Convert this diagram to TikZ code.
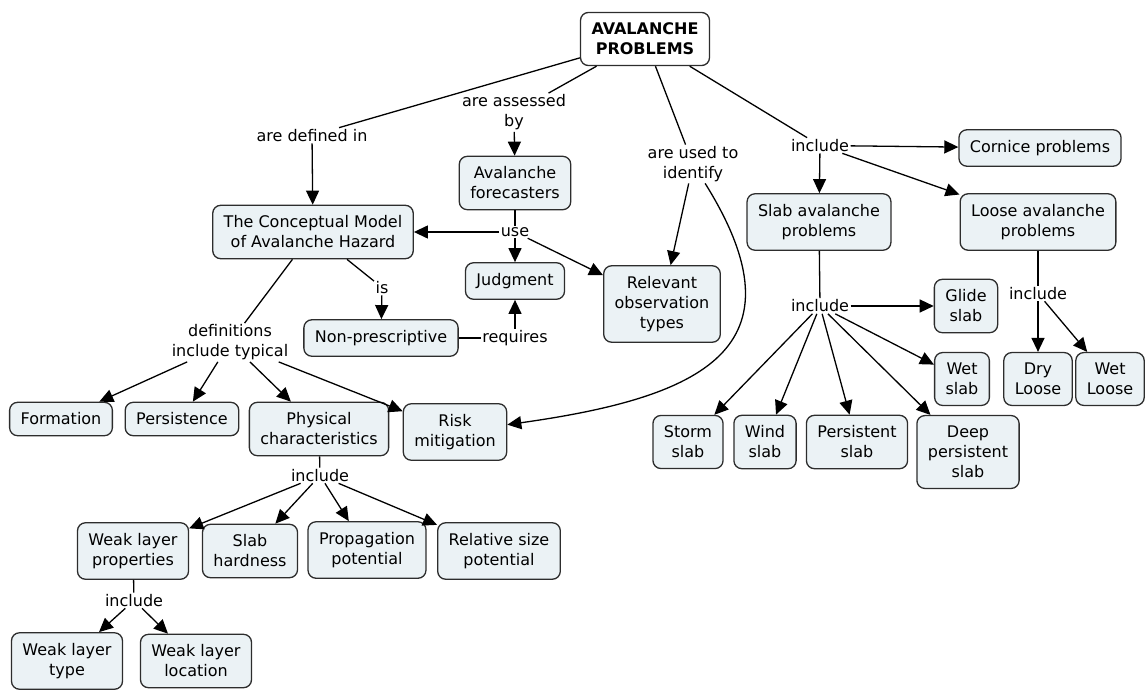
\documentclass[tikz,border=0pt]{standalone}
\usepackage{fontspec}
\setmainfont{DejaVu Sans}
\usepackage{tikz}
\usetikzlibrary{arrows.meta}
\definecolor{conceptfill}{RGB}{235,242,245}
\definecolor{conceptline}{RGB}{45,45,45}
\tikzset{every picture/.style={line width=1.3pt}}

\begin{document}
\begin{tikzpicture}[x=1pt,y=-1pt,>={Triangle[length=14pt,width=13pt]},
        concept/.style={draw=conceptline,fill=conceptfill,rounded corners=8pt,align=center,
            inner xsep=11pt,inner ysep=10.5pt,font=\fontsize{16}{20}\selectfont},
        link/.style={align=center,inner sep=1pt,font=\fontsize{16}{20}\selectfont}]
        \useasboundingbox (0,0) rectangle (1145,690);
        \node[concept,fill=white,font=\fontsize{16}{20}\selectfont\bfseries] (root) at (645,39) {AVALANCHE\\PROBLEMS};
        \node[link] (defined) at (312,135.5) {are defined in};
        \node[link] (assessed) at (514,112.5) {are assessed\\by};
        \node[link] (identify) at (693,164) {are used to\\identify};
        \node[link] (incl1) at (820,145.5) {include};
        \node[concept] (cornice) at (1040,148) {Cornice problems};
        \node[concept] (forecasters) at (515,183) {Avalanche\\forecasters};
        \node[concept] (model) at (313,232) {The Conceptual Model\\of Avalanche Hazard};
        \node[concept] (slab) at (819,222) {Slab avalanche\\problems};
        \node[concept] (loose) at (1038,222) {Loose avalanche\\problems};
        \node[link] (use) at (515,232) {use};
        \node[concept] (judgment) at (515,281) {Judgment};
        \node[concept] (relevant) at (662,304) {Relevant\\observation\\types};
        \node[link] (is) at (382,287.5) {is};
        \node[concept] (nonpres) at (381,338) {Non-prescriptive};
        \node[link] (requires) at (515,338) {requires};
        \node[link] (defs) at (230,342.5) {definitions\\include typical};
        \node[link] (incl2) at (820,306) {include};
        \node[concept] (glide) at (966,306) {Glide\\slab};
        \node[link] (incl3) at (1038,293.5) {include};
        \node[concept] (wetslab) at (962,379) {Wet\\slab};
        \node[concept] (dry) at (1038,379) {Dry\\Loose};
        \node[concept] (wetloose) at (1110,379) {Wet\\Loose};
        \node[concept] (formation) at (61,419) {Formation};
        \node[concept] (persistence) at (182,419) {Persistence};
        \node[concept] (physical) at (319,429) {Physical\\characteristics};
        \node[concept] (risk) at (455,432) {Risk\\mitigation};
        \node[concept] (storm) at (688,442) {Storm\\slab};
        \node[concept] (wind) at (765,442) {Wind\\slab};
        \node[concept] (persistent) at (857,442) {Persistent\\slab};
        \node[concept] (deep) at (968,452) {Deep\\persistent\\slab};
        \node[link] (incl4) at (320,475.5) {include};
        \node[concept] (wlprop) at (133,551) {Weak layer\\properties};
        \node[concept] (hardness) at (250,551) {Slab\\hardness};
        \node[concept] (propagation) at (367,550) {Propagation\\potential};
        \node[concept] (relsize) at (499,551) {Relative size\\potential};
        \node[link] (incl5) at (134,600.5) {include};
        \node[concept] (wltype) at (67,661) {Weak layer\\type};
        \node[concept] (wlloc) at (196,661) {Weak layer\\location};
        \draw
            (root) edge (defined)
            (defined) edge[->] (model)
            (root) edge (assessed)
            (assessed) edge[->] (forecasters)
            (root) edge (identify)
            (identify) edge[->] (relevant)
            (identify) edge[->,out=-58,in=8,looseness=1.6] (risk)
            (root) edge (incl1)
            (incl1) edge[->] (cornice)
            (incl1) edge[->] (slab)
            (incl1) edge[->] (loose)
            (forecasters) edge (use)
            (use) edge[->] (model)
            (use) edge[->] (judgment)
            (use) edge[->] (relevant)
            (model) edge (is)
            (is) edge[->] (nonpres)
            (nonpres) edge (requires)
            (requires) edge[->] (judgment)
            (model) edge (defs)
            (defs) edge[->] (formation)
            (defs) edge[->] (persistence)
            (defs) edge[->] (physical)
            (defs) edge[->] (risk)
            (physical) edge (incl4)
            (incl4) edge[->] (wlprop)
            (incl4) edge[->] (hardness)
            (incl4) edge[->] (propagation)
            (incl4) edge[->] (relsize)
            (wlprop) edge (incl5)
            (incl5) edge[->] (wltype)
            (incl5) edge[->] (wlloc)
            (slab) edge (incl2)
            (incl2) edge[->] (glide)
            (incl2) edge[->] (wetslab)
            (incl2) edge[->] (storm)
            (incl2) edge[->] (wind)
            (incl2) edge[->] (persistent)
            (incl2) edge[->] (deep)
            (loose) edge (incl3)
            (incl3) edge[->] (dry)
            (incl3) edge[->] (wetloose)
            ;
    \end{tikzpicture}
\end{document}
